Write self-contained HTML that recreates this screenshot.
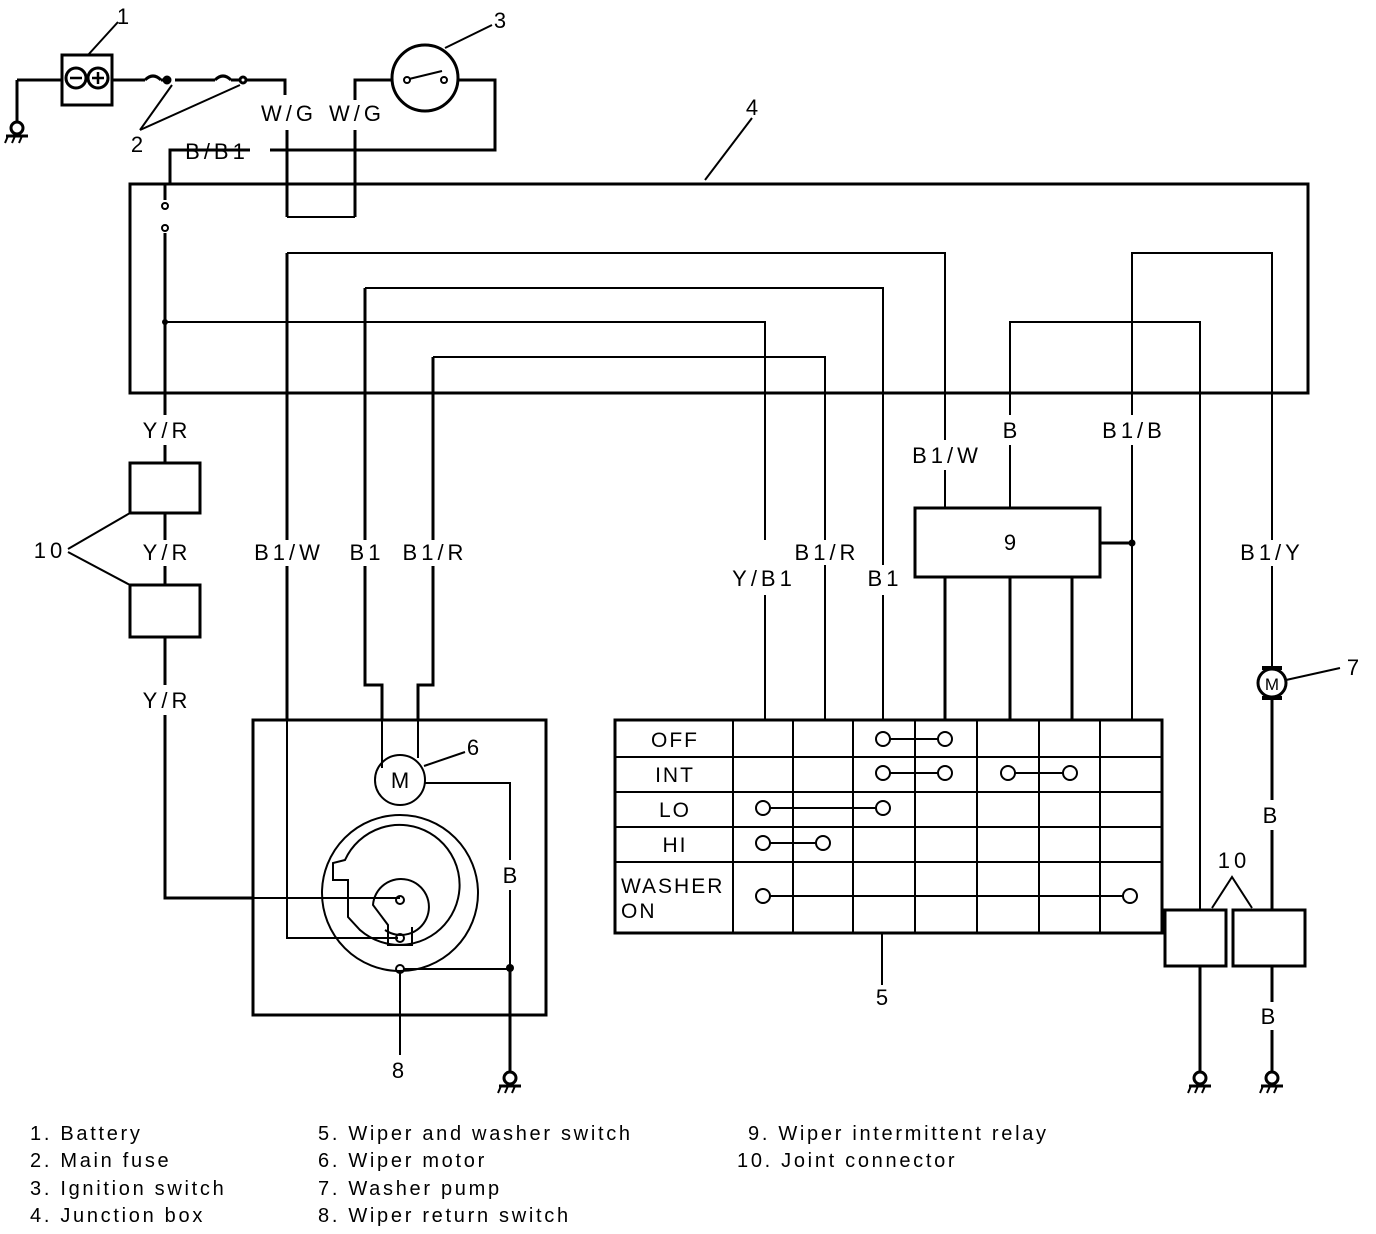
<!DOCTYPE html>
<html><head><meta charset="utf-8"><style>
html,body{margin:0;padding:0;background:#fff}
svg{display:block}
text{font-family:"Liberation Sans",sans-serif;fill:#000}
.l{font-size:22px;letter-spacing:4px}
.t{font-size:21px;letter-spacing:2px}
.g{font-size:20px;letter-spacing:2.7px}
</style></head><body>
<svg width="1376" height="1234" viewBox="0 0 1376 1234" xmlns="http://www.w3.org/2000/svg">
<defs>
<g id="gnd"><line x1="0" y1="-12" x2="0" y2="-6" stroke="#000" stroke-width="3"/><circle cx="0" cy="0" r="6" fill="none" stroke="#000" stroke-width="3"/><line x1="-11" y1="8" x2="11" y2="8" stroke="#000" stroke-width="3"/><line x1="-9" y1="8" x2="-12" y2="15" stroke="#000" stroke-width="2"/><line x1="-2" y1="8" x2="-5" y2="15" stroke="#000" stroke-width="2"/><line x1="5" y1="8" x2="2" y2="15" stroke="#000" stroke-width="2"/></g>
</defs>
<g fill="none" stroke="#000" stroke-width="3">
<!-- battery -->
<rect x="62" y="55" width="50" height="50"/>
<circle cx="76" cy="78" r="10"/><circle cx="98" cy="78" r="10"/>
<path d="M70 78 H82 M92 78 H104 M98 72 V84" stroke-width="2.5"/>
<line x1="62" y1="80" x2="17" y2="80"/><line x1="17" y1="80" x2="17" y2="118"/>
<line x1="112" y1="80" x2="145" y2="80"/>
<path d="M145 80 q8-8 16 0 M161 80 h10 M175 80 h40 M215 80 q8-8 16 0 M231 80 h10 M245 80 h40 V95" />
<circle cx="167" cy="80" r="3"/><circle cx="243" cy="80" r="3"/>
<!-- ignition -->
<path d="M355 100 V80 H392 M458 80 H495 V150 H270"/>
<circle cx="425" cy="78" r="33"/>
<circle cx="407" cy="80" r="3" stroke-width="2"/><circle cx="444" cy="80" r="3" stroke-width="2"/>
<path d="M409 79 L442 71" stroke-width="2"/>
<path d="M250 150 H170 V183"/>
<line x1="287" y1="130" x2="287" y2="217"/>
<line x1="355" y1="130" x2="355" y2="217"/>
<line x1="287" y1="217" x2="355" y2="217" stroke-width="2"/>
<!-- junction box -->
<rect x="130" y="184" width="1178" height="209"/>
<line x1="705" y1="180" x2="752" y2="118" stroke-width="2"/>
<line x1="88" y1="55" x2="118" y2="22" stroke-width="2"/>
<line x1="140" y1="130" x2="172" y2="85" stroke-width="2"/>
<line x1="140" y1="130" x2="240" y2="85" stroke-width="2"/>
<line x1="445" y1="48" x2="492" y2="25" stroke-width="2"/>
<!-- internal wiring -->
<path d="M165 183 V200 M165 233 V415 M165 445 V463" />
<circle cx="165" cy="206" r="3" stroke-width="2"/><circle cx="165" cy="228" r="3" stroke-width="2"/>
<path d="M165 322 H765 V540 M765 595 V720" stroke-width="2"/>
<path d="M287 253 H945 V440 M945 470 V508" stroke-width="2"/>
<path d="M365 288 H883 V565 M883 595 V720" stroke-width="2"/>
<path d="M433 357 H825 V540 M825 565 V720" stroke-width="2"/>
<path d="M1010 445 V508 M1010 415 V322 H1200 V910" stroke-width="2"/>
<path d="M1132 445 V720 M1132 415 V253 H1272 V540 M1272 566 V668" stroke-width="2"/>
<path d="M1100 543 H1132"/>
<path d="M287 253 V540 M287 566 V720" />
<path d="M365 288 V540 M365 566 V685 H382 V720" />
<path d="M433 357 V540 M433 566 V685 H418 V720" />
<!-- relay -->
<rect x="915" y="508" width="185" height="69"/>
<path d="M945 577 V720 M1010 577 V720 M1072 577 V720"/>
<!-- left connectors -->
<rect x="130" y="463" width="70" height="50"/>
<rect x="130" y="585" width="70" height="52"/>
<path d="M165 513 V540 M165 566 V585 M165 637 V685 M165 715 V898 H252"/>
<line x1="68" y1="549" x2="130" y2="513" stroke-width="2"/>
<line x1="68" y1="552" x2="130" y2="585" stroke-width="2"/>
<!-- motor box -->
<rect x="253" y="720" width="293" height="295"/>
<g stroke-width="2">
<path d="M382 720 V768 M418 720 V758"/>
<circle cx="400" cy="780" r="25"/>
<line x1="424" y1="766" x2="465" y2="752"/>
<path d="M425 783 H510 V860 M510 890 V968"/>
<path d="M252 898 H400"/>
<path d="M287 720 V938 H398"/>
<circle cx="400" cy="893" r="78"/>
<path d="M345 860 A60 60 0 1 1 360 930 L348 917 V880 H333 V863 Z" stroke-width="2"/>
<path d="M385 930 A28 28 0 1 0 373 905 L388 925 V945 H412 V927"/>
<circle cx="400" cy="900" r="4"/><circle cx="400" cy="938" r="4"/><circle cx="400" cy="969" r="4"/>
<path d="M404 969 H510"/>
<line x1="400" y1="971" x2="400" y2="1055"/>
</g>
<path d="M510 968 V1068"/>
<!-- switch table -->
<rect x="615" y="720" width="547" height="213"/>
<g stroke-width="2">
<path d="M615 757 H1162 M615 792 H1162 M615 827 H1162 M615 862 H1162"/>
<path d="M733 720 V933 M793 720 V933 M853 720 V933 M915 720 V933 M977 720 V933 M1039 720 V933 M1100 720 V933"/>
<path d="M882 933 V985"/>
</g>
<g stroke-width="2" fill="#fff">
<line x1="883" y1="739" x2="945" y2="739"/><circle cx="883" cy="739" r="7"/><circle cx="945" cy="739" r="7"/>
<line x1="883" y1="773" x2="945" y2="773"/><circle cx="883" cy="773" r="7"/><circle cx="945" cy="773" r="7"/>
<line x1="1008" y1="773" x2="1070" y2="773"/><circle cx="1008" cy="773" r="7"/><circle cx="1070" cy="773" r="7"/>
<line x1="763" y1="808" x2="883" y2="808"/><circle cx="763" cy="808" r="7"/><circle cx="883" cy="808" r="7"/>
<line x1="763" y1="843" x2="823" y2="843"/><circle cx="763" cy="843" r="7"/><circle cx="823" cy="843" r="7"/>
<line x1="763" y1="896" x2="1130" y2="896"/><circle cx="763" cy="896" r="7"/><circle cx="1130" cy="896" r="7"/>
</g>
<!-- right side -->
<circle cx="1272" cy="683" r="14"/>
<path d="M1262 668 H1282 M1262 698 H1282" stroke-width="4"/>
<line x1="1286" y1="680" x2="1340" y2="668" stroke-width="2"/>
<path d="M1272 698 V800 M1272 830 V910 M1272 966 V1002 M1272 1030 V1068"/>
<rect x="1165" y="910" width="61" height="56"/>
<rect x="1233" y="910" width="72" height="56"/>
<path d="M1200 966 V1068"/>
<path d="M1212 908 L1232 877 L1252 908" stroke-width="2"/>
</g>
<g fill="#000">
<circle cx="165" cy="322" r="3"/><circle cx="1132" cy="543" r="3.5"/><circle cx="510" cy="968" r="4"/>
</g>
<use href="#gnd" x="17" y="128"/>
<use href="#gnd" x="510" y="1078"/>
<use href="#gnd" x="1200" y="1078"/>
<use href="#gnd" x="1272" y="1078"/>
<!-- labels -->
<text x="400" y="788" font-size="22" text-anchor="middle">M</text>
<text x="1272" y="690" font-size="17" text-anchor="middle">M</text>
<g class="l" text-anchor="middle">
<text x="125" y="24">1</text><text x="502" y="28">3</text><text x="754" y="115">4</text>
<text x="139" y="152">2</text>
<text x="289" y="121">W/G</text><text x="357" y="121">W/G</text>
<text x="217" y="159">B/B1</text>
<text x="167" y="438">Y/R</text><text x="167" y="560">Y/R</text><text x="167" y="708">Y/R</text>
<text x="50" y="558">10</text>
<text x="289" y="560">B1/W</text><text x="367" y="560">B1</text><text x="435" y="560">B1/R</text>
<text x="764" y="586">Y/B1</text><text x="827" y="560">B1/R</text><text x="885" y="586">B1</text>
<text x="947" y="463">B1/W</text><text x="1012" y="438">B</text><text x="1134" y="438">B1/B</text>
<text x="1012" y="550">9</text><text x="1272" y="560">B1/Y</text>
<text x="1355" y="675">7</text><text x="475" y="755">6</text>
<text x="512" y="883">B</text><text x="400" y="1078">8</text><text x="884" y="1005">5</text>
<text x="1272" y="823">B</text><text x="1234" y="868">10</text><text x="1270" y="1024">B</text>
</g>
<g class="t" text-anchor="middle">
<text x="675" y="747">OFF</text><text x="675" y="782">INT</text><text x="675" y="817">LO</text><text x="675" y="852">HI</text>
</g>
<g class="t"><text x="621" y="893">WASHER</text><text x="621" y="918">ON</text></g>
<g class="g">
<text x="30" y="1140">1. Battery</text><text x="30" y="1167">2. Main fuse</text><text x="30" y="1195">3. Ignition switch</text><text x="30" y="1222">4. Junction box</text>
<text x="318" y="1140">5. Wiper and washer switch</text><text x="318" y="1167">6. Wiper motor</text><text x="318" y="1195">7. Washer pump</text><text x="318" y="1222">8. Wiper return switch</text>
<text x="748" y="1140">9. Wiper intermittent relay</text><text x="737" y="1167">10. Joint connector</text>
</g>
</svg>
</body></html>
